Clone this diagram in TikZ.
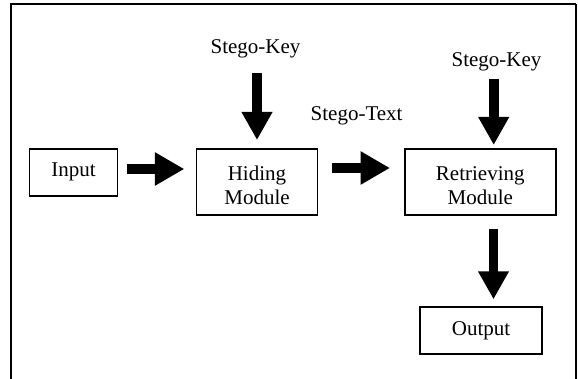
\documentclass[tikz,border=0pt]{standalone}
\usepackage{fontspec}
\setmainfont{Liberation Serif}
\usetikzlibrary{arrows.meta}
\begin{document}
\begin{tikzpicture}[x=1pt,y=-1pt,
  box/.style={draw=black,line width=1.8pt,rectangle,inner sep=0pt,align=center,
    font=\fontsize{21}{23.5}\selectfont},
  lbl/.style={inner sep=0pt,anchor=base,font=\fontsize{21}{23.5}\selectfont},
  harrow/.style={line width=10.4pt,-{Triangle[length=29.5pt,width=31.5pt]}},
  varrow/.style={line width=9.6pt,-{Triangle[length=28pt,width=29pt]}}]
\useasboundingbox (0,0) rectangle (578,379);
% frame (open at the bottom)
\draw[line width=2pt] (11,381) -- (11,4) -- (576,4);
\draw[line width=1.2pt] (576,4) -- (576,381);
% boxes
\node[box,minimum width=88pt,minimum height=47pt] (input) at (73.5,172.3) {Input};
\node[box,minimum width=121pt,minimum height=66pt] (hiding) at (257,182.3) {\rule{0pt}{20.5pt}Hiding\\Module};
\node[box,minimum width=151pt,minimum height=66pt] (retr) at (480.3,182.2) {\rule{0pt}{20.5pt}Retrieving\\Module};
\node[box,minimum width=122pt,minimum height=47.5pt] (output) at (481,330.4) {Output};
% labels
\node[lbl] (key1) at (255.5,54) {Stego-Key};
\node[lbl] (key2) at (496.5,67) {Stego-Key};
\node[lbl] (stext) at (356.6,120.5) {Stego-Text};
% arrow end points
\coordinate (a1s) at (126.7,169);
\coordinate (a1e) at (184.3,169);
\coordinate (a2s) at (331.7,168);
\coordinate (a2e) at (390,168);
\coordinate (a3s) at (257,73.3);
\coordinate (a3e) at (257,140);
\coordinate (a4s) at (493.7,78.7);
\coordinate (a4e) at (493.7,145);
\coordinate (a5s) at (493.5,228.7);
\coordinate (a5e) at (493.5,299.3);
% block arrows
\draw[harrow] (a1s) -- (a1e);
\draw[harrow] (a2s) -- (a2e);
\draw[varrow] (a3s) -- (a3e);
\draw[varrow] (a4s) -- (a4e);
\draw[varrow] (a5s) -- (a5e);
\end{tikzpicture}
\end{document}
